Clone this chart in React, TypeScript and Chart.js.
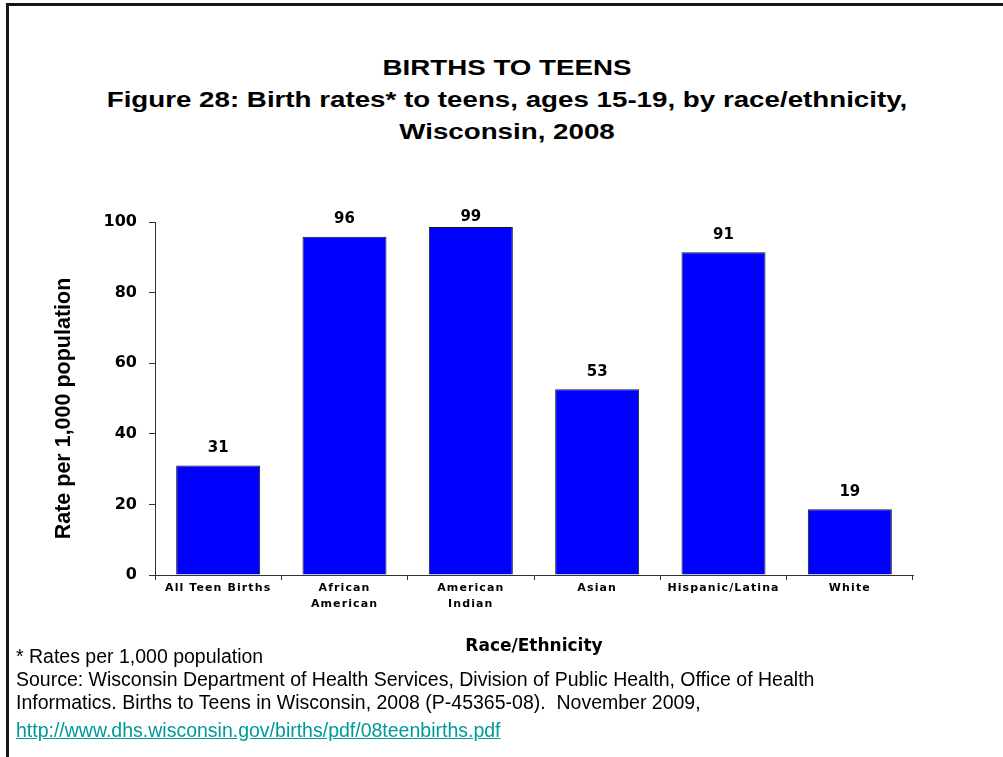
import React, { useEffect, useRef } from "react";
import { Chart, registerables } from "chart.js";

Chart.register(...registerables);

// ---- data ----
const categories: (string | string[])[] = [
  "All Teen Births",
  ["African", "American"],
  ["American", "Indian"],
  "Asian",
  "Hispanic/Latina",
  "White",
];
const birthRates = [31.0, 95.8, 98.6, 52.6, 91.4, 18.6];
const yTickValues = [0, 20, 40, 60, 80, 100];

const titleLines = [
  "BIRTHS TO TEENS",
  "Figure 28: Birth rates* to teens, ages 15-19, by race/ethnicity,",
  "Wisconsin, 2008",
];
const xAxisTitle = "Race/Ethnicity";
const yAxisTitle = "Rate per 1,000 population";
const footnoteLines = [
  "* Rates per 1,000 population",
  "Source: Wisconsin Department of Health Services, Division of Public Health, Office of Health",
  "Informatics. Births to Teens in Wisconsin, 2008 (P-45365-08).  November 2009,",
];
const sourceUrl = "http://www.dhs.wisconsin.gov/births/pdf/08teenbirths.pdf";

const SANS = "'Liberation Sans', Arial, Helvetica, sans-serif";
const WIDE = "'DejaVu Sans', Verdana, sans-serif";

// value labels above bars, y-axis title, and letter spacing for the x tick labels (drawn at z:1)
const valueLabelPlugin = {
  id: "valueLabels",
  beforeDraw(chart: any) {
    chart.ctx.letterSpacing = "0px";
  },
  afterDatasetsDraw(chart: any) {
    const ctx = chart.ctx;
    const meta = chart.getDatasetMeta(0);
    const values = chart.data.datasets[0].data as number[];
    ctx.save();
    ctx.font = `bold 15px ${WIDE}`;
    ctx.fillStyle = "#000";
    ctx.textAlign = "center";
    ctx.textBaseline = "middle";
    meta.data.forEach((bar: any, i: number) => {
      const y = Math.max(bar.y - 17.5, chart.chartArea.top - 5);
      ctx.fillText(String(Math.round(values[i])), bar.x, y);
    });
    ctx.restore();
    ctx.letterSpacing = "1.1px";
  },
  afterDraw(chart: any) {
    const ctx = chart.ctx;
    ctx.letterSpacing = "0px";
    const ys = chart.scales.y;
    ctx.save();
    ctx.translate(ys.left + 24, (ys.top + ys.bottom) / 2 + 10);
    ctx.rotate(-Math.PI / 2);
    ctx.font = `bold 21.5px ${SANS}`;
    ctx.fillStyle = "#000";
    ctx.textAlign = "center";
    ctx.textBaseline = "middle";
    ctx.fillText(yAxisTitle, 0, 0);
    ctx.restore();
  },
};

export default function App() {
  const canvasRef = useRef<HTMLCanvasElement>(null);

  useEffect(() => {
    const canvas = canvasRef.current;
    if (!canvas) return;
    const chart = new Chart(canvas, {
      type: "bar",
      data: {
        labels: categories as any,
        datasets: [
          {
            data: birthRates,
            backgroundColor: "#0000FF",
            borderColor: "#1a1a1a",
            borderWidth: 1,
            barPercentage: 0.665,
            categoryPercentage: 1,
          },
        ],
      },
      plugins: [valueLabelPlugin],
      options: {
        responsive: false,
        animation: false,
        devicePixelRatio: 1,
        layout: { padding: { left: 40, right: 90, top: 222, bottom: 100 } },
        plugins: {
          legend: { display: false },
          tooltip: { enabled: false },
          title: { display: false },
        },
        scales: {
          x: {
            offset: true,
            grid: {
              offset: true,
              drawOnChartArea: false,
              drawTicks: true,
              tickLength: 5,
              color: "#333",
              lineWidth: 1,
            },
            border: { display: true, color: "#333", width: 1 },
            ticks: {
              z: 1,
              color: "#000",
              padding: 0,
              maxRotation: 0,
              minRotation: 0,
              autoSkip: false,
              font: { family: WIDE, weight: "bold", size: 11, lineHeight: 1.45 },
            },
            title: {
              display: true,
              text: xAxisTitle,
              color: "#000",
              font: { family: WIDE, weight: "bold", size: 17, lineHeight: 1.2 },
              padding: { top: 0, bottom: 0 },
            },
            afterFit: (scale: any) => {
              scale.height = 82;
            },
          },
          y: {
            min: 0,
            max: 100,
            afterBuildTicks: (scale: any) => {
              scale.ticks = yTickValues.map((v) => ({ value: v }));
            },
            grid: {
              drawOnChartArea: false,
              drawTicks: true,
              tickLength: 6,
              color: "#333",
              lineWidth: 1,
            },
            border: { display: true, color: "#333", width: 1 },
            ticks: {
              color: "#000",
              padding: 12,
              font: { family: WIDE, weight: "bold", size: 16 },
            },
            title: { display: false, text: yAxisTitle },
            afterFit: (scale: any) => {
              scale.width = 115;
            },
          },
        },
      } as any,
    });
    return () => chart.destroy();
  }, []);

  const titleBaselines = [76, 108, 140];
  const footBaselines = [663, 686, 709];
  const footSize = 19.5;
  const footAscent = 18.3;

  return (
    <div
      style={{
        position: "absolute",
        left: 0,
        top: 0,
        width: 1003,
        height: 757,
        overflow: "hidden",
        background: "#fff",
        fontFamily: SANS,
        color: "#000",
      }}
    >
      <div
        style={{
          position: "absolute",
          left: 6,
          top: 3,
          width: 1100,
          height: 900,
          borderTop: "3px solid #161616",
          borderLeft: "3px solid #161616",
        }}
      />
      {titleLines.map((line, i) => (
        <div
          key={i}
          style={{
            position: "absolute",
            left: 11,
            width: 992,
            top: titleBaselines[i] - 23.6,
            height: 32,
            lineHeight: "32px",
            fontSize: 22,
            fontWeight: "bold",
            textAlign: "center",
            whiteSpace: "nowrap",
            transform: "scaleX(1.26)",
            transformOrigin: "50% 50%",
          }}
        >
          {line}
        </div>
      ))}
      <canvas
        ref={canvasRef}
        width={1003}
        height={757}
        style={{ position: "absolute", left: 0, top: 0, width: 1003, height: 757 }}
      />
      {footnoteLines.map((line, i) => (
        <div
          key={i}
          style={{
            position: "absolute",
            left: 16,
            top: footBaselines[i] - footAscent,
            lineHeight: "23px",
            fontSize: footSize,
            whiteSpace: "pre",
          }}
        >
          {line}
        </div>
      ))}
      <div
        style={{
          position: "absolute",
          left: 16,
          top: 737 - footAscent,
          lineHeight: "23px",
          fontSize: footSize,
          whiteSpace: "pre",
          color: "#00999a",
          textDecoration: "underline",
        }}
      >
        {sourceUrl}
      </div>
    </div>
  );
}
